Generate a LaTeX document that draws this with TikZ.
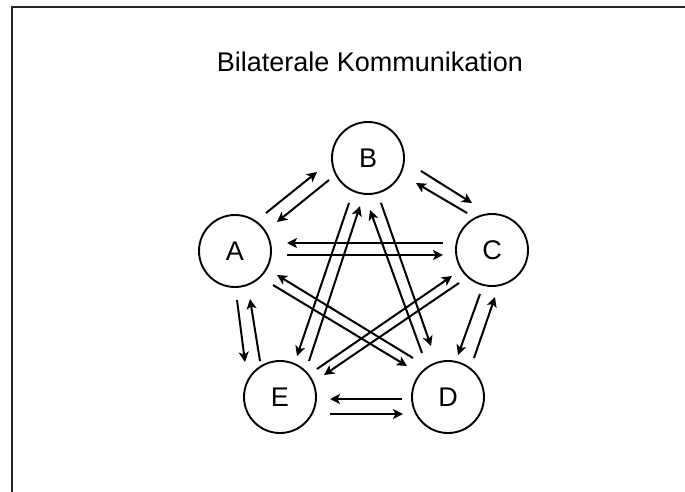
\documentclass[tikz,border=0pt]{standalone}
\usepackage{fontspec}
\setmainfont{Liberation Sans}
\usepackage{tikz}
\usetikzlibrary{arrows.meta, positioning, calc}

\begin{document}
\begin{tikzpicture}[x=1pt, y=-1pt,
    knoten/.style={shape=circle, draw=black, line width=1.9pt, minimum size=72pt, inner sep=0pt, font=\fontsize{27}{30}\selectfont},
    pfeil/.style={line width=2pt, -{Stealth[length=10pt, width=10pt, inset=2.5pt]}}]
    \useasboundingbox (0,0) rectangle (685,492);
    \draw[line width=1.8pt, black!85] (12,492) -- (12,7) -- (685,7);
    \node[font=\fontsize{27}{30}\selectfont] (titel) at (370,62) {Bilaterale Kommunikation};

    \node[knoten] (A) at (235,251) {A};
    \node[knoten] (B) at (368,158) {B};
    \node[knoten] (C) at (492,250) {C};
    \node[knoten] (D) at (448,397) {D};
    \node[knoten] (E) at (280,397) {E};

    % aeussere Paare
    \path[pfeil] ([shift={(31,-38)}]A.center) edge ([shift={(-51,14)}]B.center);
    \path[pfeil] ([shift={(-39,22)}]B.center) edge ([shift={(42,-29)}]A.center);
    \path[pfeil] ([shift={(53,13)}]B.center)  edge ([shift={(-20,-47)}]C.center);
    \path[pfeil] ([shift={(-25,-37)}]C.center) edge ([shift={(48,25)}]B.center);
    \path[pfeil] ([shift={(-12,44)}]C.center) edge ([shift={(10,-42)}]D.center);
    \path[pfeil] ([shift={(26,-39)}]D.center) edge ([shift={(3,47)}]C.center);
    \path[pfeil] ([shift={(-46,2)}]D.center)  edge ([shift={(50,2)}]E.center);
    \path[pfeil] ([shift={(50,17)}]E.center)  edge ([shift={(-45,17)}]D.center);
    \path[pfeil] ([shift={(-20,-36)}]E.center) edge ([shift={(15,48)}]A.center);
    \path[pfeil] ([shift={(2,49)}]A.center)   edge ([shift={(-35,-35)}]E.center);

    % innere Paare
    \path[pfeil] ([shift={(-49,-7)}]C.center) edge ([shift={(52,-8)}]A.center);
    \path[pfeil] ([shift={(52,4)}]A.center)   edge ([shift={(-49,5)}]C.center);
    \path[pfeil] ([shift={(-19,45)}]B.center) edge ([shift={(17,-41)}]E.center);
    \path[pfeil] ([shift={(29,-36)}]E.center) edge ([shift={(-8,48)}]B.center);
    \path[pfeil] ([shift={(-26,-44)}]D.center) edge ([shift={(2,52)}]B.center);
    \path[pfeil] ([shift={(13,45)}]B.center)  edge ([shift={(-17,-51)}]D.center);
    \path[pfeil] ([shift={(38,34)}]A.center)  edge ([shift={(-41,-31)}]D.center);
    \path[pfeil] ([shift={(-35,-39)}]D.center) edge ([shift={(42,24)}]A.center);
    \path[pfeil] ([shift={(37,-28)}]E.center) edge ([shift={(-40,26)}]C.center);
    \path[pfeil] ([shift={(-33,33)}]C.center) edge ([shift={(44,-22)}]E.center);
\end{tikzpicture}
\end{document}
